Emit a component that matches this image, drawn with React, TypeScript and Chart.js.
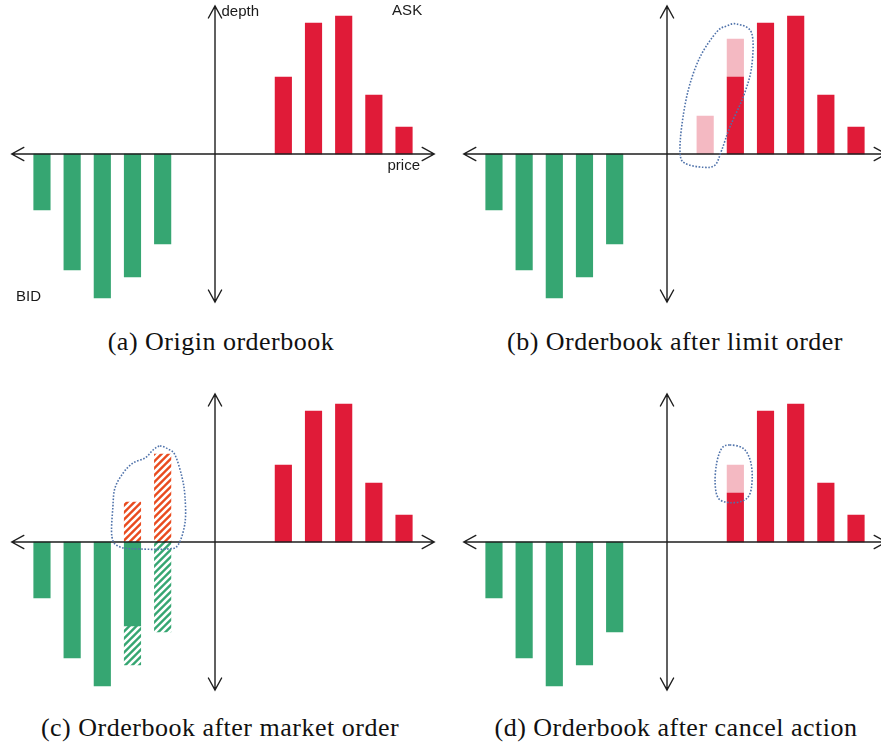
import React, { useEffect, useRef } from "react";
import { Chart, registerables } from "chart.js";

Chart.register(...registerables);

// ---------- data ----------
const BID_PRICES = [1, 2, 3, 4, 5];
const ASK_PRICES = [9, 10, 11, 12, 13];
const BID_DEPTH = [56, 116, 144, 123, 90];
const ASK_DEPTH = [77, 131, 138, 59, 27];

const LIMIT_PRICES = [8, 9];
const LIMIT_SIZES = [38, 38];

const MARKET_PRICES = [4, 5];
const MARKET_ORDER = [40, 88];
const MARKET_FILLED = [39, 90];

const CANCEL_PRICE = 9;
const CANCEL_SIZE = 28;

const MID_PRICE = 6.735;
const PRICE_MIN = 0;
const PRICE_MAX = 14;
const DEPTH_MIN = -148;
const DEPTH_MAX = 148;

const CAPTIONS = [
  "(a) Origin orderbook",
  "(b) Orderbook after limit order",
  "(c) Orderbook after market order",
  "(d) Orderbook after cancel action",
];

type Pt = [number, number];

const LIMIT_OUTLINE: Pt[] = [
  [9.05, 130], [9.54, 121], [9.54, 87], [9.26, 57], [8.82, 27], [8.55, 4],
  [8.33, -11], [7.94, -13.3], [7.33, -9.3], [7.17, 0.7], [7.22, 27],
  [7.44, 64], [7.83, 97], [8.38, 122], [8.71, 128],
];
const MARKET_OUTLINE: Pt[] = [
  [4.91, 96], [5.18, 93], [5.41, 87], [5.64, 65], [5.74, 45], [5.74, 19],
  [5.51, -3], [5.14, -7], [4.25, -7], [3.59, -5], [3.32, 5], [3.35, 35],
  [3.42, 54], [3.69, 69], [4.02, 79], [4.42, 84], [4.68, 92],
];
const CANCEL_OUTLINE: Pt[] = [
  [8.82, 97], [9.26, 93.7], [9.49, 82], [9.56, 65.3], [9.49, 48.7],
  [9.26, 41.3], [8.82, 39.3], [8.44, 43.7], [8.33, 58.7], [8.38, 78.7],
  [8.55, 93.7],
];

type Label = { text: string; p: number; d: number; align: CanvasTextAlign };
const AXIS_LABELS: Label[] = [
  { text: "depth", p: 6.95, d: 142, align: "left" },
  { text: "ASK", p: 13.6, d: 143, align: "right" },
  { text: "price", p: 13.53, d: -12, align: "right" },
  { text: "BID", p: 0.14, d: -143, align: "left" },
];

// ---------- styles ----------
const GREEN = "#36a672";
const RED = "#e01b38";
const PINK = "#f4b9c2";
const ORANGE = "#e94b1f";
const OUTLINE = "#4f72aa";
const AXIS = "#1e1e1e";

function hatch(color: string): CanvasPattern | string {
  const s = 7;
  const c = document.createElement("canvas");
  c.width = s;
  c.height = s;
  const g = c.getContext("2d");
  if (!g) return color;
  g.fillStyle = color;
  g.fillRect(0, 0, s, s);
  g.strokeStyle = "#ffffff";
  g.lineWidth = 2.6;
  g.beginPath();
  g.moveTo(-1, s + 1);
  g.lineTo(s + 1, -1);
  g.moveTo(-2, 2);
  g.lineTo(2, -2);
  g.moveTo(s - 2, s + 2);
  g.lineTo(s + 2, s - 2);
  g.stroke();
  return g.createPattern(c, "repeat") || color;
}

function closedCurve(ctx: CanvasRenderingContext2D, pts: Pt[]) {
  const n = pts.length;
  ctx.beginPath();
  ctx.moveTo(pts[0][0], pts[0][1]);
  for (let i = 0; i < n; i++) {
    const p0 = pts[(i - 1 + n) % n];
    const p1 = pts[i];
    const p2 = pts[(i + 1) % n];
    const p3 = pts[(i + 2) % n];
    ctx.bezierCurveTo(
      p1[0] + (p2[0] - p0[0]) / 6,
      p1[1] + (p2[1] - p0[1]) / 6,
      p2[0] - (p3[0] - p1[0]) / 6,
      p2[1] - (p3[1] - p1[1]) / 6,
      p2[0],
      p2[1]
    );
  }
  ctx.closePath();
}

type Spec = {
  build: () => any[];
  outline?: Pt[];
  labels?: boolean;
  left: number;
  top: number;
};

function barSet(data: any[], color: any) {
  return {
    data,
    backgroundColor: color,
    borderWidth: 0,
    barThickness: 16.5,
    grouped: false,
  };
}

const baseBids = () =>
  BID_PRICES.map((p, i) => ({ x: p, y: [0, -BID_DEPTH[i]] }));
const baseAsks = () =>
  ASK_PRICES.map((p, i) => ({ x: p, y: [0, ASK_DEPTH[i]] }));

const SPECS: Spec[] = [
  {
    left: 0,
    top: 0,
    labels: true,
    build: () => [barSet(baseBids(), GREEN), barSet(baseAsks(), RED)],
  },
  {
    left: 452,
    top: 0,
    outline: LIMIT_OUTLINE,
    build: () => {
      const limits = LIMIT_PRICES.map((p, i) => {
        const k = ASK_PRICES.indexOf(p);
        const base = k >= 0 ? ASK_DEPTH[k] : 0;
        return { x: p, y: [base, base + LIMIT_SIZES[i]] };
      });
      return [
        barSet(baseBids(), GREEN),
        barSet(baseAsks(), RED),
        barSet(limits, PINK),
      ];
    },
  },
  {
    left: 0,
    top: 388,
    outline: MARKET_OUTLINE,
    build: () => {
      const remain: any[] = [];
      const filled: any[] = [];
      BID_PRICES.forEach((p, i) => {
        const k = MARKET_PRICES.indexOf(p);
        const f = k >= 0 ? MARKET_FILLED[k] : 0;
        const r = Math.max(0, BID_DEPTH[i] - f);
        if (r > 0) remain.push({ x: p, y: [0, -r] });
        if (f > 0) filled.push({ x: p, y: [-r, -BID_DEPTH[i]] });
      });
      const orders = MARKET_PRICES.map((p, i) => ({
        x: p,
        y: [0, MARKET_ORDER[i]],
      }));
      return [
        barSet(remain, GREEN),
        barSet(filled, hatch(GREEN)),
        barSet(orders, hatch(ORANGE)),
        barSet(baseAsks(), RED),
      ];
    },
  },
  {
    left: 452,
    top: 388,
    outline: CANCEL_OUTLINE,
    build: () => {
      const asks = ASK_PRICES.map((p, i) => ({
        x: p,
        y: [0, p === CANCEL_PRICE ? ASK_DEPTH[i] - CANCEL_SIZE : ASK_DEPTH[i]],
      }));
      const k = ASK_PRICES.indexOf(CANCEL_PRICE);
      const cancelled = [
        {
          x: CANCEL_PRICE,
          y: [ASK_DEPTH[k] - CANCEL_SIZE, ASK_DEPTH[k]],
        },
      ];
      return [
        barSet(baseBids(), GREEN),
        barSet(asks, RED),
        barSet(cancelled, PINK),
      ];
    },
  },
];

const W = 440;
const H = 320;

function Panel({ spec }: { spec: Spec }) {
  const ref = useRef<HTMLCanvasElement | null>(null);
  useEffect(() => {
    if (!ref.current) return;
    const decor = {
      id: "decor",
      afterDatasetsDraw(chart: any) {
        const ctx: CanvasRenderingContext2D = chart.ctx;
        const xs = chart.scales.x;
        const ys = chart.scales.y;
        const X = (p: number) => xs.getPixelForValue(p);
        const Y = (d: number) => ys.getPixelForValue(d);
        ctx.save();
        // axes
        ctx.strokeStyle = AXIS;
        ctx.lineWidth = 1.4;
        ctx.lineCap = "round";
        const y0 = Y(0);
        const xl = X(PRICE_MIN);
        const xr = X(PRICE_MAX);
        const xm = X(MID_PRICE);
        const yt = Y(DEPTH_MAX);
        const yb = Y(DEPTH_MIN);
        ctx.beginPath();
        ctx.moveTo(xl, y0);
        ctx.lineTo(xr, y0);
        ctx.moveTo(xm, yt);
        ctx.lineTo(xm, yb);
        // arrowheads
        const a = 12;
        const b = 6.6;
        ctx.moveTo(xl + a, y0 - b);
        ctx.lineTo(xl, y0);
        ctx.lineTo(xl + a, y0 + b);
        ctx.moveTo(xr - a, y0 - b);
        ctx.lineTo(xr, y0);
        ctx.lineTo(xr - a, y0 + b);
        ctx.moveTo(xm - b, yt + a);
        ctx.lineTo(xm, yt);
        ctx.lineTo(xm + b, yt + a);
        ctx.moveTo(xm - b, yb - a);
        ctx.lineTo(xm, yb);
        ctx.lineTo(xm + b, yb - a);
        ctx.stroke();
        // outline
        if (spec.outline) {
          ctx.strokeStyle = OUTLINE;
          ctx.lineWidth = 1.6;
          ctx.lineCap = "butt";
          ctx.setLineDash([1.6, 1.6]);
          closedCurve(
            ctx,
            spec.outline.map(([p, d]) => [X(p), Y(d)] as Pt)
          );
          ctx.stroke();
          ctx.setLineDash([]);
        }
        // labels
        if (spec.labels) {
          ctx.fillStyle = "#1a1a1a";
          ctx.font = '15px "Liberation Sans", Arial, sans-serif';
          ctx.textBaseline = "middle";
          AXIS_LABELS.forEach((l) => {
            ctx.textAlign = l.align;
            ctx.fillText(l.text, X(l.p), Y(l.d));
          });
        }
        ctx.restore();
      },
    };
    const chart = new Chart(ref.current, {
      type: "bar",
      data: { datasets: spec.build() },
      options: {
        responsive: false,
        animation: false,
        layout: { padding: { left: 11.8, right: 5.8, top: 6, bottom: 18 } },
        plugins: { legend: { display: false }, tooltip: { enabled: false } },
        scales: {
          x: {
            type: "linear",
            min: PRICE_MIN,
            max: PRICE_MAX,
            offset: false,
            display: false,
          },
          y: {
            type: "linear",
            min: DEPTH_MIN,
            max: DEPTH_MAX,
            display: false,
          },
        },
      } as any,
      plugins: [decor],
    });
    return () => chart.destroy();
  }, [spec]);
  return (
    <canvas
      ref={ref}
      width={W}
      height={H}
      style={{
        position: "absolute",
        left: spec.left,
        top: spec.top,
        width: W,
        height: H,
      }}
    />
  );
}

const CAPTION_POS = [
  { cx: 221, top: 326 },
  { cx: 675, top: 326 },
  { cx: 220, top: 712 },
  { cx: 676, top: 712 },
];

export default function App() {
  return (
    <div
      style={{
        position: "absolute",
        left: 0,
        top: 0,
        width: 881,
        height: 746,
        overflow: "hidden",
        background: "#ffffff",
      }}
    >
      {SPECS.map((s, i) => (
        <Panel key={i} spec={s} />
      ))}
      {CAPTIONS.map((c, i) => (
        <div
          key={c}
          style={{
            position: "absolute",
            left: CAPTION_POS[i].cx - 220,
            width: 440,
            top: CAPTION_POS[i].top,
            textAlign: "center",
            fontFamily: '"Liberation Serif", "Times New Roman", serif',
            fontSize: 26,
            letterSpacing: "0.5px",
            lineHeight: "32px",
            color: "#111",
            whiteSpace: "nowrap",
          }}
        >
          {c}
        </div>
      ))}
    </div>
  );
}
